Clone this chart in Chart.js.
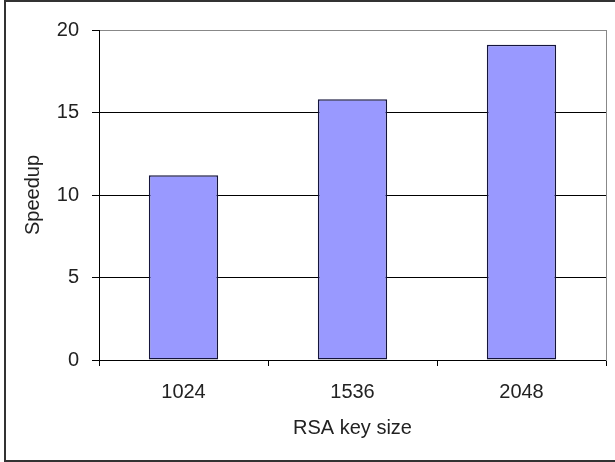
<!DOCTYPE html>
<html>
<head>
<meta charset="utf-8">
<script src="https://cdn.jsdelivr.net/npm/chart.js@4.4.0/dist/chart.umd.min.js"></script>
<style>
  html, body { margin: 0; padding: 0; background: #fff; overflow: hidden; }
  #wrap { position: relative; width: 615px; height: 462px; }
  #frame {
    position: absolute; left: 4px; top: 0; width: 700px; height: 462px;
    border: 2px solid #333; box-sizing: border-box; pointer-events: none;
  }
</style>
</head>
<body>
<div id="wrap">
  <canvas id="chart" width="615" height="462"></canvas>
  <div id="frame"></div>
</div>
<script>
// data
const keySizes = ['1024', '1536', '2048'];
const speedup = [11.2, 15.8, 19.1];
const yTicks = [0, 5, 10, 15, 20];

const font = { family: '"Liberation Sans", Arial, sans-serif', size: 20 };
const textColor = '#222';

const ctx = document.getElementById('chart').getContext('2d');
new Chart(ctx, {
    type: 'bar',
    data: {
        labels: keySizes,
        datasets: [{
            label: 'Speedup',
            data: speedup,
            backgroundColor: '#9999ff',
            borderColor: '#14143c',
            borderWidth: 1.5,
            borderSkipped: false,
            barPercentage: 0.41,
            categoryPercentage: 1
        }]
    },
    options: {
        responsive: false,
        devicePixelRatio: 1,
        animation: false,
        layout: { padding: { left: 0, top: 30, right: 9, bottom: 0 } },
        plugins: {
            legend: { display: false },
            tooltip: { enabled: false }
        },
        scales: {
            x: {
                offset: true,
                grid: { offset: true, drawOnChartArea: false, drawTicks: true, tickLength: 6, tickColor: '#000' },
                border: { color: '#000', width: 1 },
                ticks: { font: font, color: textColor, padding: 14, maxRotation: 0 },
                title: { display: true, text: 'RSA key size', font: font, color: textColor, padding: { top: 0, bottom: 22 } },
                afterFit: scale => { scale.height = 102; }
            },
            y: {
                min: 0,
                max: 20,
                afterBuildTicks: scale => { scale.ticks = yTicks.map(v => ({ value: v })); },
                grid: {
                    color: c => (c.tick && c.tick.value === 20 ? '#888' : '#000'),
                    tickColor: '#000',
                    tickLength: 7
                },
                border: { color: '#000', width: 1 },
                ticks: { font: font, color: textColor, padding: 13 },
                title: { display: true, text: 'Speedup', font: font, color: textColor, padding: { top: 21, bottom: 0 } },
                afterFit: scale => { scale.width = 99; }
            },
            yRight: {
                position: 'right',
                min: 0,
                max: 20,
                grid: { drawOnChartArea: false, drawTicks: false },
                border: { color: '#888', width: 1 },
                ticks: { display: false },
                afterFit: scale => { scale.width = 0; }
            }
        }
    }
});
</script>
</body>
</html>
